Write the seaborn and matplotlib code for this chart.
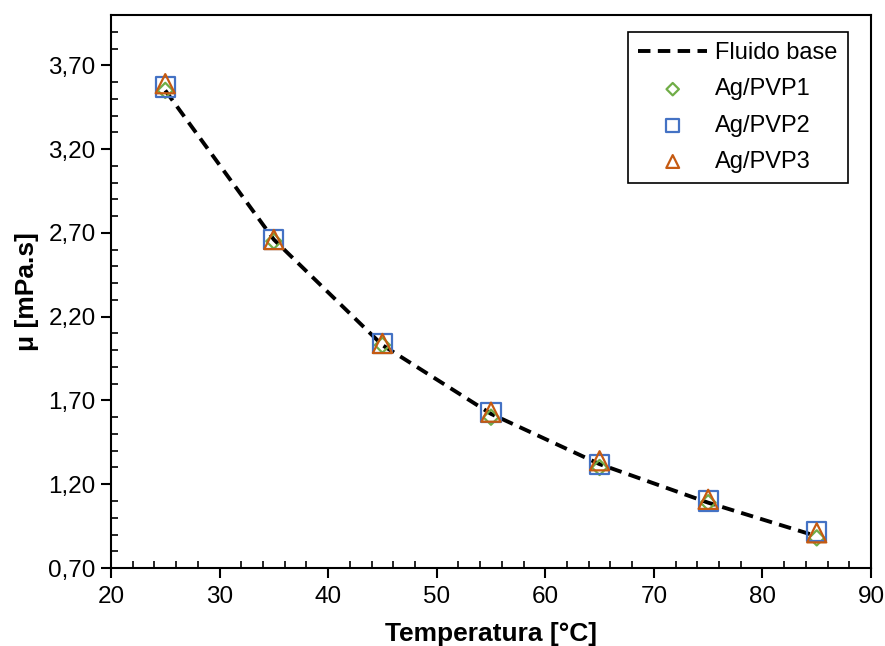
import numpy as np
import pandas as pd
import matplotlib.pyplot as plt
import matplotlib.ticker as mticker
import seaborn as sns

temperatura = [25, 35, 45, 55, 65, 75, 85]
fluido_base = [3.55, 2.66, 2.03, 1.62, 1.32, 1.09, 0.89]
ag_pvp1 = [3.55, 2.65, 2.03, 1.60, 1.30, 1.09, 0.88]
ag_pvp2 = [3.57, 2.66, 2.04, 1.63, 1.32, 1.10, 0.92]
ag_pvp3 = [3.59, 2.66, 2.04, 1.63, 1.34, 1.11, 0.91]

sns.set_style("ticks")
plt.rcParams['font.family'] = ['Liberation Sans', 'DejaVu Sans']
plt.rcParams['text.color'] = 'black'
plt.rcParams['axes.labelcolor'] = 'black'

fig = plt.figure(figsize=(8.85, 6.46), dpi=100)
ax = fig.add_axes([0.1254, 0.1207, 0.8588, 0.8561])

sns.lineplot(x=temperatura, y=fluido_base, ax=ax, color="black", lw=2.8,
             linestyle=(0, (3.2, 1.9)), label="Fluido base", zorder=2)

series = [
    ("Ag/PVP1", ag_pvp1, "D", "#70AD47", 60, 40),
    ("Ag/PVP2", ag_pvp2, "s", "#4472C4", 190, 85),
    ("Ag/PVP3", ag_pvp3, "^", "#C55A11", 190, 85),
]
for name, vals, mk, col, sz, _ in series:
    sns.scatterplot(x=temperatura, y=vals, ax=ax, marker=mk, s=sz,
                    facecolors="none", edgecolor=col, linewidth=1.6,
                    label=name, zorder=3)

ax.set_xlim(20, 90)
ax.set_ylim(0.70, 4.00)
ax.xaxis.set_major_locator(mticker.MultipleLocator(10))
ax.xaxis.set_minor_locator(mticker.MultipleLocator(2))
ax.set_yticks(np.arange(0.70, 3.71, 0.5))
ax.yaxis.set_minor_locator(mticker.MultipleLocator(0.1))
ax.yaxis.set_major_formatter(mticker.FuncFormatter(lambda v, p: f"{v:.2f}".replace(".", ",")))

ax.tick_params(which="major", direction="out", length=7, width=1.5, labelsize=17.5,
               colors="black", pad=4)
ax.tick_params(axis="x", which="major", pad=6)
ax.tick_params(which="minor", direction="in", length=5, width=1.2, colors="black")
ax.tick_params(top=False, right=False, which="both")
for s in ax.spines.values():
    s.set_linewidth(1.5)
    s.set_color("black")

ax.set_xlabel("Temperatura [°C]", fontsize=19, fontweight="bold", labelpad=10)
ax.set_ylabel("μ [mPa.s]", fontsize=19, fontweight="bold", labelpad=7)

leg = ax.legend(loc="upper right", bbox_to_anchor=(0.97, 0.97), borderaxespad=0,
                fontsize=17, fancybox=False, edgecolor="black", framealpha=1,
                handlelength=2.9, handletextpad=0.35, labelspacing=0.6, borderpad=0.45)
leg.get_frame().set_linewidth(1.2)
for h, (_, _, _, _, _, lsz) in zip(leg.legend_handles[1:], series):
    h.set_sizes([lsz])

fig.savefig("out.png", dpi=100)
